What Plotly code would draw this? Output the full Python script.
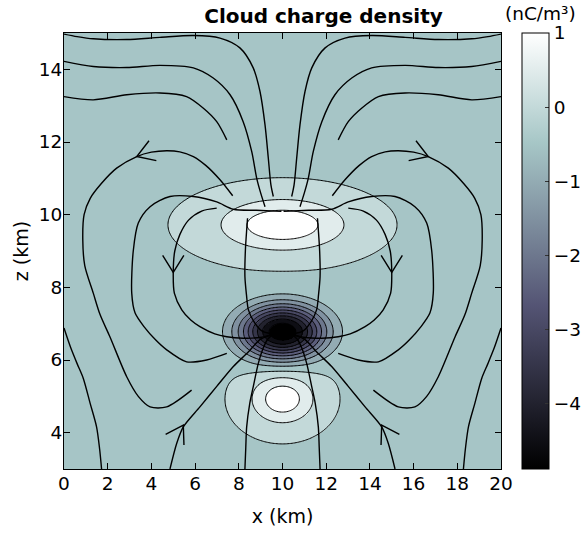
import numpy as np
import plotly.graph_objects as go

# ---------------- axes / ticks ----------------
X_RANGE = [0, 20]
Z_RANGE = [3, 15]
X_TICKS = [0, 2, 4, 6, 8, 10, 12, 14, 16, 18, 20]
Z_TICKS = [4, 6, 8, 10, 12, 14]
CBAR_TICKS = [1, 0, -1, -2, -3, -4]
CMIN, CMAX = -4.88, 1.0
LEVEL_START, LEVEL_END, LEVEL_STEP = -4.5, 1.0, 0.5

# ---------------- charge density model (blobs) ----------------
BLOB_X0 = [10.0, 10.0, 10.0]
BLOB_Z0 = [9.72, 6.78, 4.93]
BLOB_AMP = [1.45, -4.83, 1.40]
BLOB_SX = [2.02, 1.32, 1.02]
BLOB_SZ = [0.50, 0.50, 0.48]
BLOB_P = [1.0, 1.12, 1.0]
BACKGROUND = -0.05

# ---------------- field lines (left half, km), mirrored about x = 10 ----------------
LINE_A_X = [0.0, 0.6, 1.34, 2.87, 4.39, 5.92, 7.14, 8.05, 8.66, 8.97, 9.2, 9.35, 9.47, 9.58]
LINE_A_Z = [14.97, 14.9, 14.84, 14.82, 14.88, 14.93, 14.86, 14.59, 14.04, 13.39, 12.47, 11.56, 10.82, 10.5]
LINE_B_X = [0.0, 1.34, 2.87, 4.39, 5.92, 6.83, 7.6, 8.2, 8.59, 8.82, 9.0, 9.2]
LINE_B_Z = [14.22, 14.08, 14.05, 14.11, 14.04, 13.76, 13.3, 12.56, 11.74, 11.0, 10.6, 10.22]
LINE_C_X = [0.0, 1.34, 2.87, 4.39, 5.61, 6.38, 6.99, 7.45]
LINE_C_Z = [13.25, 13.16, 13.3, 13.35, 13.25, 12.93, 12.56, 12.06]
LINE_D_X = [7.72, 7.14, 6.5, 5.92, 5.3, 4.7, 4.0, 3.33, 2.41, 1.7, 1.2, 0.92, 0.86, 0.95, 1.34,
            1.65, 2.1, 2.87, 3.4, 3.94, 4.7, 5.84]
LINE_D_Z = [10.52, 10.96, 11.35, 11.6, 11.73, 11.76, 11.72, 11.6, 11.28, 10.85, 10.45, 10.0, 9.3, 8.6, 7.84,
            7.25, 6.64, 5.54, 5.0, 4.71, 4.71, 5.17]
LINE_E_X = [9.95, 8.8, 7.75, 6.99, 5.92, 4.85, 3.94, 3.4, 3.17, 3.1, 3.25, 3.66, 4.2, 4.7, 5.61, 6.53, 7.45]
LINE_E_Z = [10.09, 10.12, 10.15, 10.35, 10.5, 10.5, 10.22, 9.77, 9.0, 7.84, 7.3, 6.92, 6.55, 6.28, 5.95, 6.0, 6.18]
LINE_F_X = [6.99, 6.3, 5.7, 5.3, 5.07, 5.0, 5.05, 5.39, 5.8, 6.22, 6.9, 7.45, 8.2, 8.97, 9.5]
LINE_F_Z = [10.18, 10.1, 9.85, 9.45, 9.0, 8.41, 7.84, 7.38, 7.1, 6.92, 6.72, 6.64, 6.6, 6.62, 6.7]
LINE_G_X = [8.4, 8.36, 8.3, 8.28, 8.35, 8.44, 8.7, 9.05, 9.5]
LINE_G_Z = [9.9, 9.58, 9.0, 8.3, 7.8, 7.38, 7.05, 6.8, 6.72]
LINE_H_X = [0.0, 0.3, 0.6, 0.88, 1.2, 1.49, 1.63, 1.72]
LINE_H_Z = [6.88, 6.35, 5.9, 5.5, 4.8, 4.16, 3.55, 3.0]
LINE_I_X = [4.85, 5.16, 5.46, 6.22, 7.0, 7.75, 8.4, 8.97, 9.35, 9.6]
LINE_I_Z = [3.0, 3.71, 4.16, 4.71, 5.28, 5.82, 6.2, 6.56, 6.66, 6.7]
LINE_J_X = [8.28, 8.32, 8.36, 8.5, 8.66, 8.89, 9.1, 9.3, 9.55]
LINE_J_Z = [3.0, 3.6, 4.16, 4.8, 5.26, 5.9, 6.3, 6.55, 6.7]

LINES = [(LINE_A_X, LINE_A_Z), (LINE_B_X, LINE_B_Z), (LINE_C_X, LINE_C_Z), (LINE_D_X, LINE_D_Z),
         (LINE_E_X, LINE_E_Z), (LINE_F_X, LINE_F_Z), (LINE_G_X, LINE_G_Z), (LINE_H_X, LINE_H_Z),
         (LINE_I_X, LINE_I_Z), (LINE_J_X, LINE_J_Z)]

# arrows (left half): tip position and direction of the field
ARROW_X = [3.33, 5.0, 5.46]
ARROW_Z = [11.6, 8.41, 4.21]
ARROW_DX = [-1.58, 0.0, 0.82]
ARROW_DZ = [-0.35, -1.0, 0.85]

# ---------------- figure geometry ----------------
W, H = 582, 533
ML, MR, MT, MB = 64, 81, 33, 64
PW, PH = W - ML - MR, H - MT - MB
SX = PW / (X_RANGE[1] - X_RANGE[0])
SZ = PH / (Z_RANGE[1] - Z_RANGE[0])


def density(XX, ZZ):
    r = np.full_like(XX, BACKGROUND)
    for x0, z0, a, sx, sz, p in zip(BLOB_X0, BLOB_Z0, BLOB_AMP, BLOB_SX, BLOB_SZ, BLOB_P):
        u = (XX - x0) ** 2 / (2 * sx ** 2) + (ZZ - z0) ** 2 / (2 * sz ** 2)
        r += a * np.exp(-u ** p)
    return r


xg = np.linspace(X_RANGE[0], X_RANGE[1], 438)
zg = np.linspace(Z_RANGE[0], Z_RANGE[1], 437)
XX, ZZ = np.meshgrid(xg, zg)
rho = density(XX, ZZ)

levels = np.arange(LEVEL_START, LEVEL_END + 1e-9, LEVEL_STEP)
idx = np.searchsorted(levels, rho, side="right") - 1
band = np.where(idx >= 0, levels[np.clip(idx, 0, None)], CMIN)

bone = [[0.0, "rgb(0,0,0)"], [0.375, "rgb(84,84,116)"],
        [0.75, "rgb(167,199,199)"], [1.0, "rgb(255,255,255)"]]

FONT = "DejaVu Sans, Verdana, sans-serif"

fig = go.Figure()
fig.add_trace(go.Heatmap(
    x=xg, y=zg, z=np.round(band, 2), zmin=CMIN, zmax=CMAX, colorscale=bone, zsmooth=False,
    hoverinfo="skip",
    colorbar=dict(x=1 + (522 - (ML + PW)) / PW, xanchor="left", thickness=27, thicknessmode="pixels",
                  len=1, lenmode="fraction", y=0.5, yanchor="middle", ypad=0, xpad=0,
                  outlinecolor="black", outlinewidth=1, tickvals=CBAR_TICKS,
                  ticks="inside", ticklen=4, tickcolor="#333",
                  tickfont=dict(size=18.5, color="black", family=FONT)),
))

xc = np.linspace(X_RANGE[0], X_RANGE[1], 321)
zc = np.linspace(Z_RANGE[0], Z_RANGE[1], 361)
XC, ZC = np.meshgrid(xc, zc)
fig.add_trace(go.Contour(
    x=xc, y=zc, z=density(XC, ZC), showscale=False, hoverinfo="skip",
    contours=dict(start=LEVEL_START, end=LEVEL_END, size=LEVEL_STEP, coloring="none"),
    line=dict(color="black", width=1),
))

for lx, lz in LINES:
    for mx in (np.array(lx), 20 - np.array(lx)):
        fig.add_trace(go.Scatter(x=mx, y=lz, mode="lines", hoverinfo="skip", showlegend=False,
                                 line=dict(color="black", width=1.4, shape="spline", smoothing=0.8)))

WING, ANG = 20.0, np.radians(32)
for ax_, az_, dx, dz in zip(ARROW_X, ARROW_Z, ARROW_DX, ARROW_DZ):
    for sgn in (1, -1):
        tx = ax_ if sgn == 1 else 20 - ax_
        v = np.array([dx * sgn * SX, dz * SZ])
        v = v / np.linalg.norm(v)
        pts_x, pts_z = [], []
        for a in (ANG, -ANG):
            r = np.array([[np.cos(a), -np.sin(a)], [np.sin(a), np.cos(a)]]) @ (-v) * WING
            pts_x.append(tx + r[0] / SX)
            pts_z.append(az_ + r[1] / SZ)
        fig.add_trace(go.Scatter(x=[pts_x[0], tx, pts_x[1]], y=[pts_z[0], az_, pts_z[1]],
                                 mode="lines", hoverinfo="skip", showlegend=False,
                                 line=dict(color="black", width=1.4)))

axis_common = dict(showline=True, linecolor="black", linewidth=1, mirror="ticks", ticks="inside",
                   ticklen=6, tickcolor="black", showgrid=False, zeroline=False,
                   tickfont=dict(size=18.5, color="black", family=FONT))
fig.update_layout(
    width=W, height=H, margin=dict(l=ML, r=MR, t=MT, b=MB, autoexpand=False),
    paper_bgcolor="white", plot_bgcolor="white", showlegend=False,
    font=dict(family=FONT, color="black"),
    xaxis=dict(range=X_RANGE, tickvals=X_TICKS, ticklabelstandoff=-2,
               title=dict(text="x (km)", font=dict(size=19), standoff=16), **axis_common),
    yaxis=dict(range=Z_RANGE, tickvals=Z_TICKS, ticklabelstandoff=-3,
               title=dict(text="z (km)", font=dict(size=19), standoff=5), **axis_common),
    title=dict(text="<b>Cloud charge density</b>", x=(323.5 - ML) / PW, xref="paper", xanchor="center",
               y=1 - 16 / H, yref="container", yanchor="middle", font=dict(size=20, color="black")),
    annotations=[dict(text="(nC/m³)", xref="paper", yref="paper", x=(503 - ML) / PW, y=1 + 20 / PH,
                      xanchor="left", yanchor="middle", showarrow=False,
                      font=dict(size=18.5, color="black"))],
)
fig.write_html("out.html", config={"displayModeBar": False},
               post_script="document.body.style.margin='0px';document.body.style.overflow='hidden';")
